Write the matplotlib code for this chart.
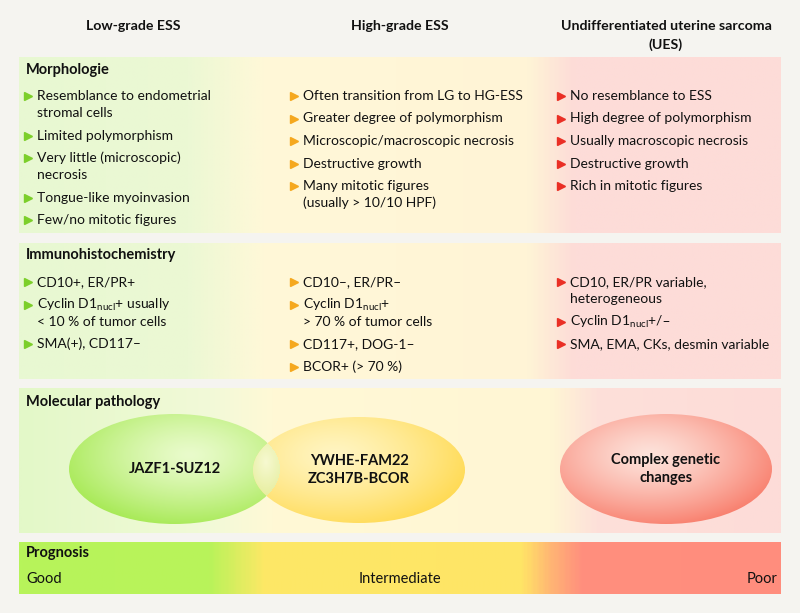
import numpy as np
import matplotlib
matplotlib.use('Agg')
import matplotlib.pyplot as plt
from matplotlib.colors import LinearSegmentedColormap, to_rgb
from matplotlib.patches import Ellipse

plt.rcParams['font.family'] = ['Lato', 'DejaVu Sans']

# column headers
headers = ["Low-grade ESS", "High-grade ESS", "Undifferentiated uterine sarcoma\n(UES)"]

# section titles
sections = ["Morphologie", "Immunohistochemistry", "Molecular pathology", "Prognosis"]

# bullet texts per column
morph_low = ["Resemblance to endometrial\nstromal cells", "Limited polymorphism",
             "Very little (microscopic)\nnecrosis", "Tongue-like myoinvasion",
             "Few/no mitotic figures"]
morph_high = ["Often transition from LG to HG-ESS", "Greater degree of polymorphism",
              "Microscopic/macroscopic necrosis", "Destructive growth",
              "Many mitotic figures\n(usually > 10/10 HPF)"]
morph_ues = ["No resemblance to ESS", "High degree of polymorphism",
             "Usually macroscopic necrosis", "Destructive growth",
             "Rich in mitotic figures"]

ihc_low = ["CD10+, ER/PR+", "Cyclin D1$_\\mathregular{nucl}$+ usually\n< 10 % of tumor cells",
           "SMA(+), CD117–"]
ihc_high = ["CD10–, ER/PR–", "Cyclin D1$_\\mathregular{nucl}$+\n> 70 % of tumor cells",
            "CD117+, DOG-1–", "BCOR+ (> 70 %)"]
ihc_ues = ["CD10, ER/PR variable,\nheterogeneous", "Cyclin D1$_\\mathregular{nucl}$+/–",
           "SMA, EMA, CKs, desmin variable"]

# molecular pathology labels
molecular = ["JAZF1-SUZ12", "YWHE-FAM22\nZC3H7B-BCOR", "Complex genetic\nchanges"]

# prognosis scale labels
prognosis = ["Good", "Intermediate", "Poor"]

bg = '#f5f4f0'
bullet_cols = ['#7ccf2a', '#f5a81e', '#ea2f25']
col_x = [37, 303, 570]
head_x = [133, 400, 666]

fig = plt.figure(figsize=(8, 6.13), dpi=100)
fig.patch.set_facecolor(bg)
ax = fig.add_axes([0, 0, 1, 1])
ax.set_xlim(0, 800)
ax.set_ylim(613, 0)
ax.axis('off')


def panel(y0, y1, stops):
    cmap = LinearSegmentedColormap.from_list('p', stops)
    grad = np.linspace(0, 1, 400).reshape(1, -1)
    ax.imshow(grad, cmap=cmap, extent=(19, 781, y1, y0), aspect='auto',
              interpolation='bilinear', zorder=1)


soft = [(0.0, '#e8f8d2'), (0.22, '#ecf8d4'), (0.32, '#fff8d8'),
        (0.67, '#fff4d6'), (0.73, '#fddcd8'), (1.0, '#fddcd8')]
panel(57, 233, soft)
panel(243, 379, soft)
panel(388, 533, [(0.0, '#e3f8c8'), (0.25, '#f2fad8'), (0.33, '#fff9d6'),
                 (0.7, '#fff6d4'), (0.76, '#fde0da'), (1.0, '#fddcd8')])
panel(542, 594, [(0.0, '#b7f45a'), (0.25, '#b9f35a'), (0.32, '#fde866'),
                 (0.66, '#ffe566'), (0.70, '#ffb574'), (0.74, '#ff8f7e'),
                 (1.0, '#ff8d7d')])

# headers
for x, h in zip(head_x, headers):
    for k, line in enumerate(h.split('\n')):
        ax.text(x, 26 + 18.5 * k, line, ha='center', va='center', fontsize=10.2,
                fontweight='bold', color='#111111', zorder=5)

# section titles
for y, s in zip([70, 255], sections[:2]):
    ax.text(26, y, s, ha='left', va='center', fontsize=10.5, fontweight='bold',
            color='#111111', zorder=5)
ax.text(26, 402, sections[2], ha='left', va='center', fontsize=10.5, fontweight='bold',
        color='#111111', zorder=5)
ax.text(26, 553, sections[3], ha='left', va='center', fontsize=10.5, fontweight='bold',
        color='#111111', zorder=5)


def bullets(items, x, y, color):
    for item in items:
        lines = item.split('\n')
        ax.plot(x - 9, y, marker='>', color=color, markersize=6, zorder=5)
        for k, line in enumerate(lines):
            ax.text(x, y + 17 * k, line, ha='left', va='center', fontsize=10,
                    color='#111111', zorder=5)
        y += 22.5 + 17 * (len(lines) - 1)


for items, x, c in zip([morph_low, morph_high, morph_ues], col_x, bullet_cols):
    bullets(items, x, 96, c)
for items, x, c in zip([ihc_low, ihc_high, ihc_ues], col_x, bullet_cols):
    bullets(items, x, 282, c)

# ellipses with radial shading
ex = np.arange(19, 781) + 0.5
ey = np.arange(388, 533) + 0.5
X, Y = np.meshgrid(ex, ey)


def shade(hx, hy, a, b, c0, c1, p=1.3):
    t = np.clip(np.sqrt(((X - hx) / a) ** 2 + ((Y - hy) / b) ** 2), 0, 1) ** p
    c0 = np.array(to_rgb(c0))
    c1 = np.array(to_rgb(c1))
    img = np.ones(X.shape + (4,))
    img[..., :3] = c0 + (c1 - c0) * t[..., None]
    return img


ells = [(174.5, 469, 211, 110), (359, 470, 212, 106), (666, 469, 212, 110)]
looks = [(190, 455, 150, 80, '#e9fbcb', '#9ee745'),
         (335, 455, 150, 80, '#fff5c2', '#ffd84a'),
         (650, 455, 150, 80, '#fde2da', '#f8725f')]
patches = []
for (cx, cy, w, h), (hx, hy, a, b, c0, c1) in zip(ells, looks):
    e = Ellipse((cx, cy), w, h, facecolor='none', edgecolor='none', zorder=3)
    ax.add_patch(e)
    im = ax.imshow(shade(hx, hy, a, b, c0, c1), extent=(19, 781, 533, 388),
                   aspect='auto', interpolation='bilinear', zorder=3)
    im.set_clip_path(e)
    patches.append(e)

# lens where the two left ellipses overlap
lens = shade(266, 462, 30, 50, '#f6fbd8', '#dceb8c', p=1.0)
cx, cy, w, h = ells[0]
inside = ((X - cx) / (w / 2)) ** 2 + ((Y - cy) / (h / 2)) ** 2 <= 1
lens[..., 3] = np.where(inside, 0.9, 0.0)
im = ax.imshow(lens, extent=(19, 781, 533, 388), aspect='auto',
               interpolation='bilinear', zorder=3.5)
im.set_clip_path(patches[1])

for (cx, cy, w, h), lab in zip(ells, molecular):
    ax.text(cx, cy, lab, ha='center', va='center', fontsize=10.5, fontweight='bold',
            linespacing=1.3, color='#111111', zorder=5)

# prognosis labels
for x, ha, lab in zip([26, 400, 778], ['left', 'center', 'right'], prognosis):
    ax.text(x, 579, lab, ha=ha, va='center', fontsize=10.5,
            color='#111111', zorder=5)

fig.savefig('out.png', dpi=100, facecolor=bg)
